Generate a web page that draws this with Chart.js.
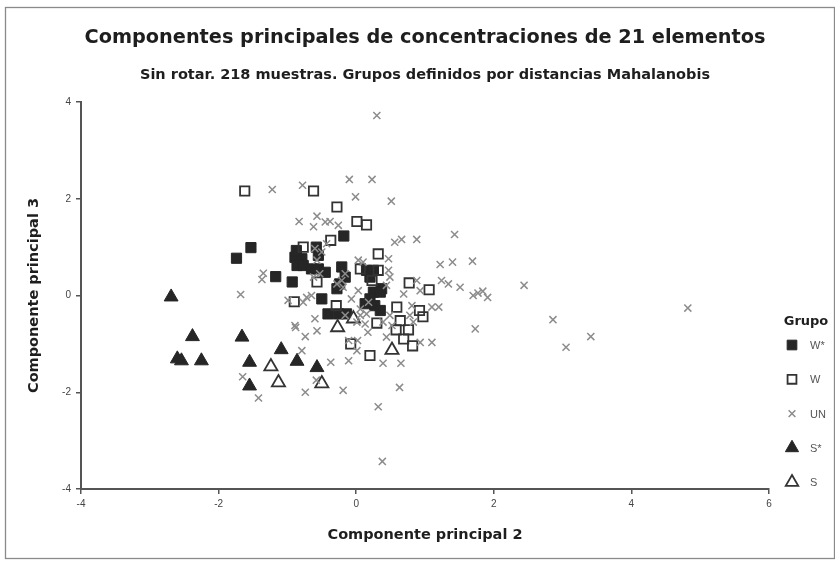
<!DOCTYPE html>
<html>
<head>
<meta charset="utf-8">
<script src="https://cdn.jsdelivr.net/npm/chart.js@4.4.1/dist/chart.umd.min.js"></script>
<style>
  html, body { margin: 0; padding: 0; background: #fff; }
  #wrap { width: 835px; height: 561px; position: relative; }
</style>
</head>
<body>
<div id="wrap"><canvas id="c" width="835" height="561"></canvas></div>
<script>
// Scores on principal components 2 (x) and 3 (y), one list per group
const grupoWStar = [
  [-1.74,0.77],[-1.53,0.99],[-1.17,0.39],[-0.93,0.28],[-0.89,0.79],[-0.79,0.76],[-0.86,0.62],
  [-0.77,0.62],[-0.87,0.93],[-0.58,1.00],[-0.55,0.83],[-0.65,0.55],[-0.55,0.55],[-0.45,0.48],
  [-0.18,1.23],[-0.21,0.59],[-0.16,0.38],[-0.24,0.24],[-0.28,0.14],[0.15,0.52],[0.25,0.52],
  [0.20,0.38],[0.37,0.14],[0.25,0.07],[0.35,0.07],[0.20,-0.07],[0.13,-0.17],[0.27,-0.21],
  [0.35,-0.31],[-0.50,-0.07],[-0.41,-0.38],[-0.26,-0.38],[-0.14,-0.38]
];
const grupoW = [
  [-1.62,2.16],[-0.62,2.16],[-0.28,1.83],[0.01,1.53],[0.15,1.46],[-0.37,1.14],[-0.77,1.00],
  [0.32,0.86],[0.06,0.55],[0.32,0.52],[0.23,0.31],[-0.57,0.28],[-0.90,-0.13],[-0.29,-0.21],
  [0.30,-0.57],[0.59,-0.24],[0.64,-0.52],[0.58,-0.71],[0.76,-0.71],[0.69,-0.90],[0.82,-1.04],
  [0.92,-0.31],[0.97,-0.44],[0.77,0.26],[1.06,0.12],[-0.08,-1.00],[0.20,-1.24]
];
const grupoUN = [
  [-1.68,0.02],[-1.65,-1.68],[-1.42,-2.12],[-1.22,2.19],[-1.35,0.46],[-1.37,0.33],
  [-0.78,2.28],[-0.10,2.40],[0.23,2.40],[0.30,3.72],[-0.01,2.04],[0.51,1.95],
  [-0.83,1.53],[-0.57,1.64],[-0.62,1.42],[-0.45,1.52],[-0.38,1.53],[-0.26,1.45],
  [-0.43,1.07],[0.56,1.10],[0.66,1.16],[0.88,1.16],[1.43,1.26],
  [-0.60,0.97],[-0.50,0.90],[-0.57,0.73],[-0.53,0.45],[-0.62,0.38],[-0.65,0.00],
  [-0.77,-0.14],[-0.99,-0.10],[-0.72,-0.04],
  [-0.16,0.45],[-0.21,0.31],[-0.28,0.24],[-0.19,0.17],[0.03,0.73],[0.10,0.69],[0.03,0.10],
  [-0.07,-0.07],[0.06,-0.28],[0.15,-0.38],[0.01,-0.55],[0.18,-0.14],
  [-0.89,-0.62],[-0.57,-0.73],[0.17,-0.76],[-0.60,-0.48],[-0.88,-0.66],[-0.74,-0.85],
  [-0.79,-1.14],[-0.58,-1.75],[-0.37,-1.38],[-0.11,-1.35],[-0.74,-2.00],[-0.19,-1.96],
  [-0.11,-0.93],[0.01,-1.14],[0.02,-0.93],
  [0.39,-1.40],[0.65,-1.40],[0.32,-2.30],[0.63,-1.90],[0.38,-3.43],
  [-0.16,-0.41],[0.06,-0.41],[0.13,-0.59],
  [0.47,0.76],[0.49,0.38],[0.44,0.21],[0.47,0.52],[0.69,0.03],[0.93,0.10],[0.88,0.31],
  [0.81,-0.21],[1.10,-0.24],[1.20,-0.24],[0.78,-0.41],[0.83,-0.55],[0.49,-0.41],[0.39,-0.55],
  [0.44,-0.86],[0.52,-0.62],[0.93,-0.97],[1.10,-0.97],
  [1.22,0.64],[1.40,0.69],[1.69,0.71],[1.24,0.31],[1.34,0.24],[1.51,0.17],[1.70,0.00],
  [1.77,0.05],[1.84,0.09],[1.91,-0.04],[1.73,-0.69],
  [2.44,0.21],[2.86,-0.50],[3.05,-1.07],[3.41,-0.85],[4.82,-0.26]
];
const grupoSStar = [
  [-2.69,-0.03],[-2.38,-0.85],[-2.60,-1.31],[-2.54,-1.35],[-2.25,-1.35],[-1.66,-0.86],
  [-1.55,-1.38],[-1.55,-1.87],[-1.09,-1.12],[-0.86,-1.36],[-0.57,-1.49]
];
const grupoS = [
  [-1.24,-1.47],[-1.13,-1.80],[-0.50,-1.82],[-0.27,-0.66],[-0.04,-0.48],[0.52,-1.13]
];

const grupoLabels = ['W*', 'W', 'UN', 'S*', 'S'];
const xTicks = [-4, -2, 0, 2, 4, 6];
const yTicks = [-4, -2, 0, 2, 4];

const titulo = 'Componentes principales de concentraciones de 21 elementos';
const subtitulo = 'Sin rotar. 218 muestras. Grupos definidos por distancias Mahalanobis';

const DARK = '#262626';
const GREY = '#8c8c8c';
const HEAVY = '"DejaVu Sans", "Liberation Sans", Arial, sans-serif';
const PLAIN = '"Liberation Sans", Arial, sans-serif';

const toPoints = arr => arr.map(([x, y]) => ({ x, y }));

const datasets = [
  { label: grupoLabels[0], data: toPoints(grupoWStar), pointStyle: 'rect', pointRadius: 7.2,
    backgroundColor: DARK, borderColor: DARK, borderWidth: 1, order: 3 },
  { label: grupoLabels[1], data: toPoints(grupoW), pointStyle: 'rect', pointRadius: 6.6,
    backgroundColor: 'rgba(255,255,255,0)', borderColor: '#333', borderWidth: 1.8, order: 2 },
  { label: grupoLabels[2], data: toPoints(grupoUN), pointStyle: 'crossRot', pointRadius: 5,
    backgroundColor: GREY, borderColor: GREY, borderWidth: 1.5, order: 0 },
  { label: grupoLabels[3], data: toPoints(grupoSStar), pointStyle: 'triangle', pointRadius: 8,
    backgroundColor: DARK, borderColor: DARK, borderWidth: 1, order: 4 },
  { label: grupoLabels[4], data: toPoints(grupoS), pointStyle: 'triangle', pointRadius: 7.6,
    backgroundColor: 'rgba(255,255,255,0.9)', borderColor: '#333', borderWidth: 1.8, order: 1 }
];

// White page with the thin grey frame
const frame = {
  id: 'frame',
  beforeDraw(chart) {
    const c = chart.ctx;
    c.save();
    c.fillStyle = '#fff';
    c.fillRect(0, 0, chart.width, chart.height);
    c.strokeStyle = '#8a8a8a';
    c.lineWidth = 1.3;
    c.strokeRect(5.5, 7.5, 829, 551);
    c.restore();
  }
};

// Title and subtitle centred over the plot area
const titles = {
  id: 'titles',
  afterDraw(chart) {
    const c = chart.ctx;
    const cx = (chart.chartArea.left + chart.chartArea.right) / 2;
    c.save();
    c.fillStyle = '#1e1e1e';
    c.textAlign = 'center';
    c.textBaseline = 'middle';
    c.font = 'bold 19.3px ' + HEAVY;
    c.fillText(titulo, cx, 38);
    c.font = 'bold 14.5px ' + HEAVY;
    c.fillText(subtitulo, cx, 75);
    c.restore();
  }
};

// Group legend at the right side, markers drawn with the dataset styles
const grupoLegend = {
  id: 'grupoLegend',
  afterDraw(chart) {
    const c = chart.ctx;
    c.save();
    c.fillStyle = '#1e1e1e';
    c.textAlign = 'center';
    c.textBaseline = 'middle';
    c.font = 'bold 13px ' + HEAVY;
    c.fillText('Grupo', 806, 322);
    [0, 1, 2, 3, 4].forEach((di, i) => {
      const ds = chart.data.datasets[di];
      const y = 345 + i * 34.3;
      c.fillStyle = ds.backgroundColor;
      c.strokeStyle = ds.borderColor;
      c.lineWidth = ds.borderWidth;
      Chart.helpers.drawPoint(c, {
        pointStyle: ds.pointStyle,
        radius: ds.pointRadius * 0.95,
        rotation: 0,
        borderWidth: ds.borderWidth
      }, 792, y);
      c.fillStyle = '#555';
      c.textAlign = 'left';
      c.font = '11px ' + PLAIN;
      c.fillText(ds.label, 810, y + 1);
    });
    c.restore();
  }
};

const tickFont = { family: PLAIN, size: 10 };
const axisTitleFont = { family: HEAVY, size: 14.5, weight: 'bold' };

new Chart(document.getElementById('c'), {
  type: 'scatter',
  data: { datasets },
  plugins: [frame, titles, grupoLegend],
  options: {
    responsive: false,
    animation: false,
    devicePixelRatio: 1,
    layout: { padding: { top: 102, right: 66, bottom: 0, left: 0 } },
    plugins: { legend: { display: false }, tooltip: { enabled: false } },
    scales: {
      x: {
        type: 'linear',
        min: -4, max: 6,
        afterBuildTicks: s => { s.ticks = xTicks.map(v => ({ value: v })); },
        afterFit: s => { s.height = 72; },
        border: { display: true, color: '#555', width: 2 },
        grid: { display: true, drawOnChartArea: false, drawTicks: true, tickLength: 5, color: '#555', lineWidth: 1.5 },
        ticks: { color: '#444', font: tickFont, padding: 4, maxRotation: 0 },
        title: { display: true, text: 'Componente principal 2', color: '#1e1e1e', font: axisTitleFont, padding: { top: 0, bottom: 17 } }
      },
      y: {
        type: 'linear',
        min: -4, max: 4,
        afterBuildTicks: s => { s.ticks = yTicks.map(v => ({ value: v })); },
        afterFit: s => { s.width = 81; },
        border: { display: true, color: '#555', width: 2 },
        grid: { display: true, drawOnChartArea: false, drawTicks: true, tickLength: 5, color: '#555', lineWidth: 1.5 },
        ticks: { color: '#444', font: tickFont, padding: 5 },
        title: { display: true, text: 'Componente principal 3', color: '#1e1e1e', font: axisTitleFont, padding: { top: 26, bottom: 0 } }
      }
    }
  }
});
</script>
</body>
</html>
